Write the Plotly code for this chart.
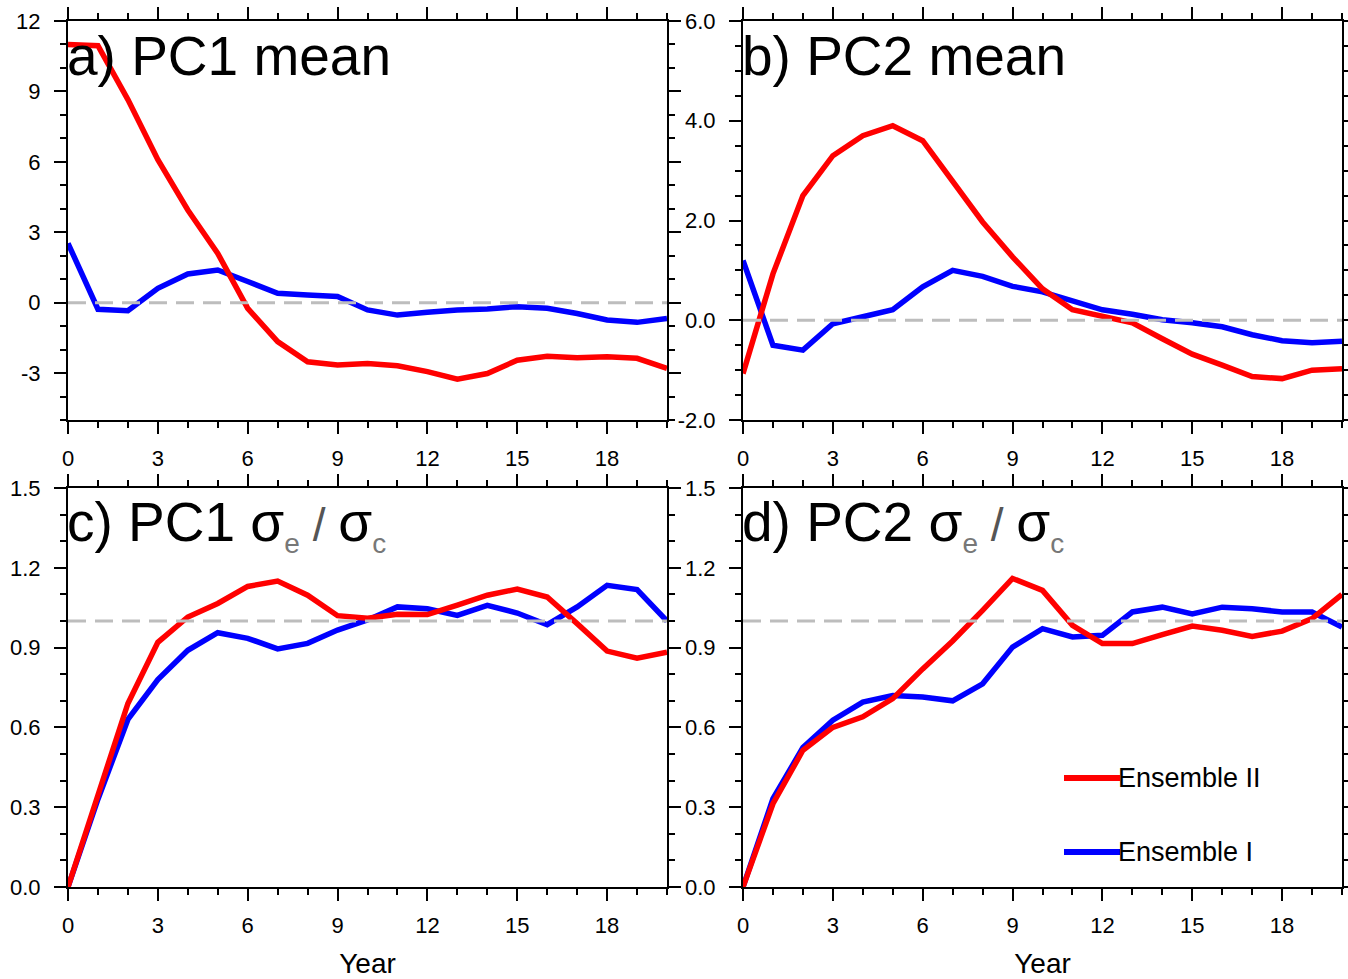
import plotly.graph_objects as go

# ---- data ----
years = list(range(21))

pc1_mean_ens2 = [11.0, 10.95, 8.65, 6.09, 3.95, 2.1, -0.24, -1.66, -2.52, -2.66, -2.59,
                 -2.69, -2.94, -3.26, -3.02, -2.45, -2.28, -2.35, -2.3, -2.37, -2.8]
pc1_mean_ens1 = [2.53, -0.28, -0.34, 0.61, 1.22, 1.39, 0.9, 0.4, 0.33, 0.26, -0.31,
                 -0.53, -0.41, -0.31, -0.27, -0.17, -0.24, -0.46, -0.74, -0.84, -0.67]
pc2_mean_ens2 = [-1.07, 0.93, 2.5, 3.3, 3.7, 3.9, 3.6, 2.8, 1.97, 1.27, 0.63,
                 0.21, 0.07, -0.05, -0.37, -0.68, -0.9, -1.13, -1.17, -1.0, -0.97]
pc2_mean_ens1 = [1.2, -0.5, -0.6, -0.07, 0.07, 0.21, 0.67, 1.0, 0.88, 0.68, 0.57,
                 0.4, 0.21, 0.12, 0.01, -0.05, -0.13, -0.29, -0.41, -0.45, -0.42]
pc1_ratio_ens2 = [0.0, 0.35, 0.69, 0.92, 1.015, 1.066, 1.13, 1.15, 1.097, 1.02, 1.01,
                  1.025, 1.024, 1.06, 1.097, 1.12, 1.09, 0.99, 0.887, 0.86, 0.883]
pc1_ratio_ens1 = [0.0, 0.33, 0.63, 0.78, 0.89, 0.956, 0.935, 0.895, 0.916, 0.966, 1.004,
                  1.053, 1.046, 1.021, 1.059, 1.03, 0.986, 1.053, 1.134, 1.118, 1.0]
pc2_ratio_ens2 = [0.0, 0.313, 0.514, 0.6, 0.64, 0.708, 0.82, 0.925, 1.04, 1.16, 1.115,
                  0.984, 0.915, 0.915, 0.949, 0.981, 0.965, 0.942, 0.962, 1.009, 1.1]
pc2_ratio_ens1 = [0.0, 0.332, 0.524, 0.627, 0.695, 0.72, 0.714, 0.70, 0.764, 0.902, 0.971,
                  0.94, 0.946, 1.034, 1.052, 1.027, 1.052, 1.046, 1.034, 1.034, 0.977]

year_ticks = [0, 3, 6, 9, 12, 15, 18]
pc1_mean_ticks = [-3, 0, 3, 6, 9, 12]
pc2_mean_ticks = [-2.0, 0.0, 2.0, 4.0, 6.0]
ratio_ticks = [0.0, 0.3, 0.6, 0.9, 1.2, 1.5]

reference = [0.0, 0.0, 1.0, 1.0]   # dashed line level per panel

W, H = 1348, 979
FONT = "Liberation Sans, Arial, Helvetica, sans-serif"
RED = "#ff0000"
BLUE = "#0000ff"


def px_x(p):
    return p / W


def px_y(p):
    return 1 - p / H


# panel boxes in pixels (left, right, top, bottom)
boxes = [(68, 667, 21, 420), (743, 1342, 21, 420),
         (68, 667, 488, 887), (743, 1342, 488, 887)]

panels = [
    (pc1_mean_ens1, pc1_mean_ens2, [-5, 12], pc1_mean_ticks, [str(v) for v in pc1_mean_ticks], 1),
    (pc2_mean_ens1, pc2_mean_ens2, [-2, 6], pc2_mean_ticks, [f"{v:.1f}" for v in pc2_mean_ticks], 0.5),
    (pc1_ratio_ens1, pc1_ratio_ens2, [0, 1.5], ratio_ticks, [f"{v:.1f}" for v in ratio_ticks], 0.1),
    (pc2_ratio_ens1, pc2_ratio_ens2, [0, 1.5], ratio_ticks, [f"{v:.1f}" for v in ratio_ticks], 0.1),
]

fig = go.Figure()

axis_common = dict(
    showline=True, linecolor="black", linewidth=2, mirror="ticks",
    ticks="outside", ticklen=12, tickwidth=2, tickcolor="black",
    showgrid=False, zeroline=False, automargin=False,
    tickfont=dict(family=FONT, size=22, color="black"),
)

for i, (ens1, ens2, yrange, yticks, ylabels, ydminor) in enumerate(panels):
    n = i + 1
    xa = "x" if n == 1 else f"x{n}"
    ya = "y" if n == 1 else f"y{n}"
    l, r, t, b = boxes[i]

    fig.add_trace(go.Scatter(x=years, y=ens1, mode="lines", xaxis=xa, yaxis=ya,
                             line=dict(color=BLUE, width=5.5), showlegend=False))
    fig.add_trace(go.Scatter(x=years, y=ens2, mode="lines", xaxis=xa, yaxis=ya,
                             line=dict(color=RED, width=5.5), showlegend=False))
    fig.add_trace(go.Scatter(x=[years[0], years[-1]], y=[reference[i]] * 2, mode="lines",
                             xaxis=xa, yaxis=ya, hoverinfo="skip",
                             line=dict(color="#bdbdbd", width=3, dash="18px,9px"),
                             showlegend=False))

    xkey = "xaxis" if n == 1 else f"xaxis{n}"
    ykey = "yaxis" if n == 1 else f"yaxis{n}"
    xaxis = dict(axis_common, domain=[px_x(l), px_x(r)], anchor=ya, range=[0, 20],
                 tickvals=year_ticks, ticklabelstandoff=6,
                 minor=dict(dtick=1, tick0=0, ticklen=6, tickwidth=1.5,
                            tickcolor="black", ticks="outside"))
    if i >= 2:
        xaxis["title"] = dict(text="Year", font=dict(family=FONT, size=28, color="black"),
                              standoff=16)
    yaxis = dict(axis_common, domain=[px_y(b), px_y(t)], anchor=xa, range=yrange,
                 tickvals=yticks, ticktext=ylabels, ticklabelstandoff=9,
                 minor=dict(dtick=ydminor, tick0=0, ticklen=6, tickwidth=1.5,
                            tickcolor="black", ticks="outside"))
    fig.update_layout({xkey: xaxis, ykey: yaxis})

# panel labels
gray = "#777777"
sub_e = f"<sub><span style='font-size:28px;color:{gray}'>e</span></sub>"
sub_c = f"<sub><span style='font-size:28px;color:{gray}'>c</span></sub>"
slash = "<span style='font-size:46px;color:#555555'> / </span>"
titles = [
    "a) PC1 mean",
    "b) PC2 mean",
    f"c) PC1 σ{sub_e}{slash}σ{sub_c}",
    f"d) PC2 σ{sub_e}{slash}σ{sub_c}",
]
title_tops = [23, 23, 489, 489]
for i, txt in enumerate(titles):
    l, r, t, b = boxes[i]
    fig.add_annotation(text=txt, xref="paper", yref="paper",
                       x=px_x(l - 3), y=px_y(title_tops[i]),
                       xanchor="left", yanchor="top", showarrow=False,
                       font=dict(family=FONT, size=55, color="black"))

# legend in panel d
legend_items = [("Ensemble II", RED, 778), ("Ensemble I", BLUE, 852)]
for name, color, yp in legend_items:
    fig.add_shape(type="line", xref="paper", yref="paper",
                  x0=px_x(1064), x1=px_x(1120), y0=px_y(yp), y1=px_y(yp),
                  line=dict(color=color, width=6))
    fig.add_annotation(text=name, xref="paper", yref="paper",
                       x=px_x(1116), y=px_y(yp), xanchor="left", yanchor="middle",
                       showarrow=False, font=dict(family=FONT, size=27, color="black"))

fig.update_layout(
    width=W, height=H,
    margin=dict(l=0, r=0, t=0, b=0),
    paper_bgcolor="white", plot_bgcolor="white",
    showlegend=False,
)

# drop the browser's default page margin so the figure sits at the window's corner
fig.write_html("out.html", config={"displayModeBar": False},
               post_script="document.body.style.margin='0px';document.body.style.overflow='hidden';")
